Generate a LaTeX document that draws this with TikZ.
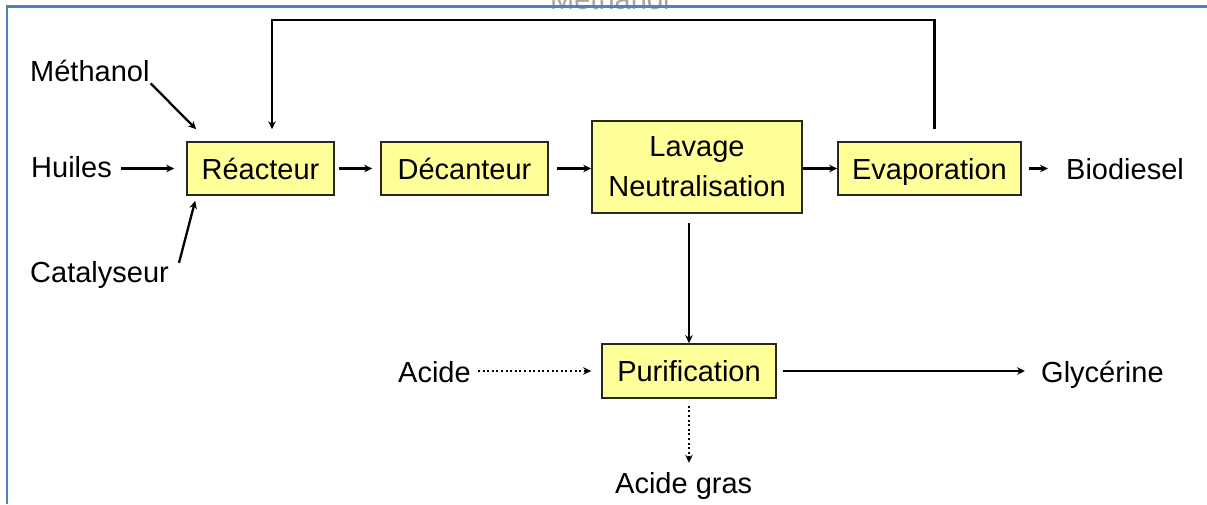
\documentclass[tikz,border=0pt]{standalone}
\usepackage{fontspec}
\setmainfont{Liberation Sans}
\usetikzlibrary{arrows.meta}
\definecolor{boxfill}{RGB}{255,255,153}
\definecolor{frameblue}{RGB}{79,129,189}
\definecolor{boxline}{RGB}{40,40,30}
\begin{document}
\begin{tikzpicture}[x=1pt,y=-1pt,
  every node/.style={font=\fontsize{29}{40}\selectfont, inner sep=0pt, text=black},
  proc/.style={draw=boxline, line width=1.6pt, fill=boxfill, minimum height=53pt, align=center},
  oneline/.style={text height=21pt, text depth=0pt},
  lbl/.style={anchor=base west},
  arr/.style={line width=2.3pt, -{Stealth[length=8pt,width=7.5pt]}},
  dotarr/.style={arr, dash pattern=on 2pt off 2.6pt}]
\useasboundingbox (0,0) rectangle (1207,504);
\fill[white] (0,0) rectangle (1207,504);

% label at top, mostly hidden by the frame in the reference
\node[lbl, text=black!35] (topcut) at (550,9) {Méthanol};

% process boxes
\node[proc, oneline, minimum width=147pt] (reac) at (260.5,168.5) {Réacteur};
\node[proc, oneline, minimum width=167pt] (dec) at (464.5,168.5) {Décanteur};
\node[proc, minimum width=210pt, minimum height=92pt] (lav) at (697,167) {Lavage\\Neutralisation};
\node[proc, oneline, minimum width=183pt] (evap) at (929.5,168.5) {Evaporation};
\node[proc, oneline, minimum width=174pt, minimum height=54pt] (purif) at (689,371) {Purification};

% labels
\node[lbl] (meth) at (30,81) {Méthanol};
\node[lbl] (huiles) at (31,177) {Huiles};
\node[lbl] (cat) at (30,282) {Catalyseur};
\node[lbl] (bio) at (1066,179) {Biodiesel};
\node[lbl] (acide) at (398,382) {Acide};
\node[lbl] (gly) at (1041,382) {Glycérine};
\node[lbl] (agras) at (615,493) {Acide gras};

% connectors
\draw[arr, shorten <=9pt, shorten >=12pt] (huiles.east |- reac.west) -- (reac.west);
\draw[arr] ([xshift=1pt,yshift=-2pt]meth.south east) -- ([xshift=10pt,yshift=12pt]reac.north west);
\draw[arr] ([xshift=10pt,yshift=-2pt]cat.north east) -- ([xshift=9pt,yshift=-5pt]reac.south west);
\draw[arr, shorten <=4pt, shorten >=8pt] (reac.east) -- (dec.west);
\draw[arr, shorten <=8pt] (dec.east) -- (dec.east -| lav.west);
\draw[arr] (lav.east |- evap.west) -- (evap.west);
\draw[arr, shorten <=7pt, shorten >=18pt] (evap.east) -- (bio.west |- evap.east);
\draw[arr] ([xshift=5pt,yshift=12pt]evap.north) -- ++(0,-109) -| ([xshift=11.5pt,yshift=12pt]reac.north);
\draw[arr, shorten <=9pt] (lav.south -| purif.north) -- (purif.north);
\draw[dotarr, shorten <=7pt, shorten >=10pt] (acide.east |- purif.west) -- (purif.west);
\draw[arr, shorten <=6pt, shorten >=16pt] (purif.east) -- (gly.west |- purif.east);
\draw[dotarr, shorten <=7pt, shorten >=9pt] (purif.south) -- (agras.north -| purif.south);

% frame
\draw[frameblue, line width=2.5pt] (7,504) -- (7,6.5) -- (1207,6.5);
\end{tikzpicture}
\end{document}
